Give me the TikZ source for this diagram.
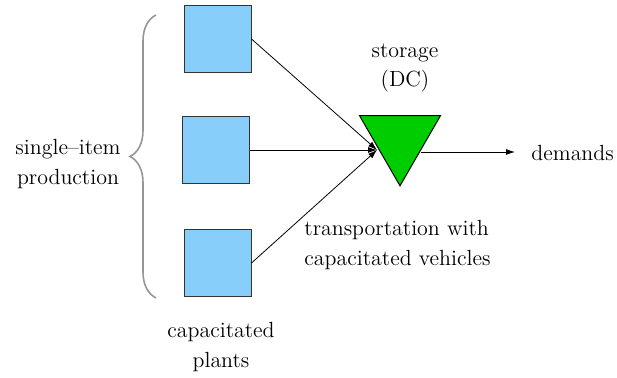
\documentclass[tikz,border=0pt]{standalone}
\usetikzlibrary{arrows.meta, shapes.geometric, decorations.pathreplacing}
\definecolor{PlantBlue}{RGB}{135,206,250}
\definecolor{DCGreen}{RGB}{0,205,0}
\definecolor{braceGrey}{RGB}{150,150,150}

\begin{document}
\begin{tikzpicture}[
  x=0.5bp, y=-0.5bp,
  font=\fontsize{11}{15}\selectfont,
  plant/.style={draw=black!80, fill=PlantBlue, minimum size=33.5bp, inner sep=0pt, line width=0.5bp},
  dc/.style={draw=black, fill=DCGreen, regular polygon, regular polygon sides=3,
    shape border rotate=180, minimum size=46.8bp, inner sep=0pt, line width=0.5bp},
  flow/.style={-{Latex[length=4.5bp,width=3bp]}, line width=0.4bp},
  lbl/.style={align=center, inner sep=0pt},
]
\useasboundingbox (0,0) rectangle (617,378);

% Plants
\node[plant] (p1) at (217.5,39) {};
\node[plant] (p2) at (216,150) {};
\node[plant] (p3) at (217.5,263) {};

% Storage (DC)
\node[dc] (dc) at (400,139) {};
\coordinate (dcin) at (377,150);
\coordinate (dcout) at (421,152);

% Labels
\node[lbl] (stor) at (405,68) {storage\\(DC)};
\node[lbl] (prod) at (68,164) {single--item\\production};
\node[lbl, anchor=west, align=left] (trans) at (304,245) {transportation with\\capacitated vehicles};
\node[lbl] (cap) at (221,347) {capacitated\\plants};
\node[lbl, anchor=west] (dem) at (531,153) {demands};

% Brace round the plants
\draw[braceGrey, line width=0.8bp, decorate, decoration={brace, amplitude=13bp}] (156,298) -- (156,15);

% Flows
\draw[flow] (p1.east) -- (dcin);
\draw[flow] (p2.east) -- (dcin);
\draw[flow] (p3.east) -- (dcin);
\draw[flow] (dcout) -- (515,152) coordinate (demin);

\end{tikzpicture}
\end{document}
